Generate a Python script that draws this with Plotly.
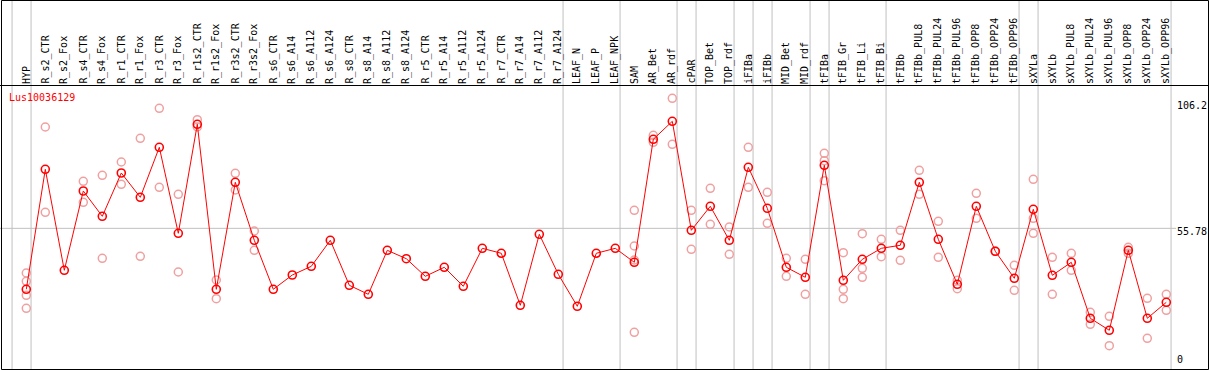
import plotly.graph_objects as go

categories = [
    "HYP", "R_s2_CTR", "R_s2_Fox", "R_s4_CTR", "R_s4_Fox", "R_r1_CTR", "R_r1_Fox",
    "R_r3_CTR", "R_r3_Fox", "R_r1s2_CTR", "R_r1s2_Fox", "R_r3s2_CTR", "R_r3s2_Fox",
    "R_s6_CTR", "R_s6_A14", "R_s6_A112", "R_s6_A124", "R_s8_CTR", "R_s8_A14",
    "R_s8_A112", "R_s8_A124", "R_r5_CTR", "R_r5_A14", "R_r5_A112", "R_r5_A124",
    "R_r7_CTR", "R_r7_A14", "R_r7_A112", "R_r7_A124", "LEAF_N", "LEAF_P", "LEAF_NPK",
    "SAM", "AR_Bet", "AR_rdf", "cPAR", "TOP_Bet", "TOP_rdf", "iFIBa", "iFIBb",
    "MID_Bet", "MID_rdf", "tFIBa", "tFIB_Gr", "tFIB_Li", "tFIB_Bi", "tFIBb",
    "tFIBb_PUL8", "tFIBb_PUL24", "tFIBb_PUL96", "tFIBb_OPP8", "tFIBb_OPP24",
    "tFIBb_OPP96", "sXYLa", "sXYLb", "sXYLb_PUL8", "sXYLb_PUL24", "sXYLb_PUL96",
    "sXYLb_OPP8", "sXYLb_OPP24", "sXYLb_OPP96",
]

mean_values = [
    31.43, 79.35, 39.02, 70.69, 60.58, 77.88, 68.17, 88.14, 53.79, 97.32,
    31.43, 74.16, 51.00, 31.43, 37.14, 40.61, 51.00, 33.03, 29.43, 47.00,
    43.65, 36.62, 40.22, 32.63, 47.80, 45.81, 25.04, 53.39, 37.42, 24.64,
    45.81, 47.80, 42.21, 91.33, 98.52, 54.99, 64.58, 51.00, 80.15, 63.78,
    40.22, 36.22, 80.95, 35.02, 43.41, 47.80, 49.00, 74.16, 51.40, 33.43,
    64.58, 46.61, 35.82, 63.38, 37.02, 42.21, 19.85, 15.06, 47.00, 19.85,
    26.24,
]

replicate_values = [
    [37.94, 34.62, 29.03, 23.84], [96.25, 62.18], [], [74.56, 66.17],
    [76.96, 43.81], [82.27, 73.36], [91.73, 44.61], [103.71, 72.16],
    [69.37, 38.34], [99.16, 96.25], [35.14, 27.68], [77.76, 71.09],
    [54.71, 47.00], [], [], [], [], [], [], [], [], [], [], [], [], [], [], [], [],
    [], [], [],
    [62.98, 48.72, 43.13, 14.26], [92.93, 90.14], [107.71, 89.34],
    [62.98, 47.40], [71.77, 57.39], [56.31, 45.41], [88.14, 72.16],
    [70.17, 57.79], [43.81, 36.62], [43.41, 29.43], [85.74, 82.79, 74.80],
    [46.05, 31.43, 27.68], [53.63, 39.82, 36.22], [51.40, 44.45],
    [54.99, 43.01], [78.95, 69.37], [58.59, 44.21], [35.02, 31.67],
    [69.77, 59.78], [46.61, 46.61], [41.01, 31.03], [75.36, 59.78, 53.79],
    [44.21, 29.43], [45.81, 39.02], [22.24, 17.45], [20.65, 8.91],
    [48.20, 45.81], [27.84, 11.86], [29.43, 23.04],
]

gene_name = "Lus10036129"
axis_labels = ["106.2", "55.78", "0"]
axis_label_values = [106.2, 55.78, 0]
grid_value = 55.78
# indices after which a grey group separator is drawn
separators_after = [-1, 0, 28, 31, 34, 35, 37, 38, 39, 41, 42, 45, 52, 53, 60]

W, H = 1209, 370
FONT = "DejaVu Sans Mono"
first_px, step_px = 26.3, 19.0
x_lo = -first_px / step_px
x_hi = x_lo + W / step_px
y_zero_px, y_scale = 368.0, 2.504
y_hi = y_zero_px / y_scale
y_lo = -(H - y_zero_px) / y_scale


def py(p):
    return 1 - p / H


def px(p):
    return p / W


idx = list(range(len(categories)))
rep_x, rep_y = [], []
for i, reps in enumerate(replicate_values):
    for v in reps:
        rep_x.append(i)
        rep_y.append(v)

fig = go.Figure()
fig.add_trace(go.Scatter(
    x=rep_x, y=rep_y, mode="markers", hoverinfo="skip",
    marker=dict(symbol="circle-open", size=8, color="#F0A0A0", line=dict(width=1.5)),
))
fig.add_trace(go.Scatter(
    x=idx, y=mean_values, mode="lines+markers",
    line=dict(color="#FF0000", width=1),
    marker=dict(symbol="circle-open", size=8, color="#FF0000", line=dict(width=1.6)),
))

shapes = []
for b in separators_after:
    shapes.append(dict(type="line", xref="x", yref="paper", x0=b + 0.25, x1=b + 0.25,
                       y0=py(369), y1=1, line=dict(color="#C0C0C0", width=1), layer="below"))
shapes.append(dict(type="line", xref="paper", yref="y", x0=0, x1=px(1176),
                   y0=grid_value, y1=grid_value, line=dict(color="#C0C0C0", width=1), layer="below"))
shapes.append(dict(type="line", xref="paper", yref="paper", x0=0, x1=1,
                   y0=py(85.5), y1=py(85.5), line=dict(color="black", width=1)))
shapes.append(dict(type="rect", xref="paper", yref="paper", x0=px(1.5), x1=px(1208.5),
                   y0=py(369.5), y1=py(0.5), line=dict(color="black", width=1)))

annotations = []
for i, c in enumerate(categories):
    annotations.append(dict(x=i, y=py(84), xref="x", yref="paper", text=c, showarrow=False,
                            textangle=-90, xanchor="center", yanchor="bottom",
                            xshift=-0.3,
                            font=dict(family=FONT, size=10, color="black"),
                            borderpad=0, borderwidth=0))
annotations.append(dict(x=px(9), y=py(97), xref="paper", yref="paper", text=gene_name,
                        showarrow=False, xanchor="left", yanchor="middle",
                        font=dict(family=FONT, size=10, color="#FF0000"),
                        borderpad=0, borderwidth=0))
for lab, v in zip(axis_labels, axis_label_values):
    annotations.append(dict(x=px(1177), y=v, xref="paper", yref="y", text=lab,
                            showarrow=False, xanchor="left",
                            yanchor="bottom" if v == 0 else "top",
                            yshift=3 if v == 0 else 2,
                            font=dict(family=FONT, size=10, color="black"),
                            borderpad=0, borderwidth=0))

fig.update_layout(
    width=W, height=H, autosize=False,
    margin=dict(l=0, r=0, t=0, b=0, pad=0),
    paper_bgcolor="white", plot_bgcolor="white",
    showlegend=False,
    xaxis=dict(range=[x_lo, x_hi], visible=False, fixedrange=True),
    yaxis=dict(range=[y_lo, y_hi], visible=False, fixedrange=True),
    shapes=shapes, annotations=annotations,
)

fig.write_html(
    "out.html",
    config={"displayModeBar": False},
    post_script="document.body.style.margin='0';document.body.style.overflow='hidden';",
)
